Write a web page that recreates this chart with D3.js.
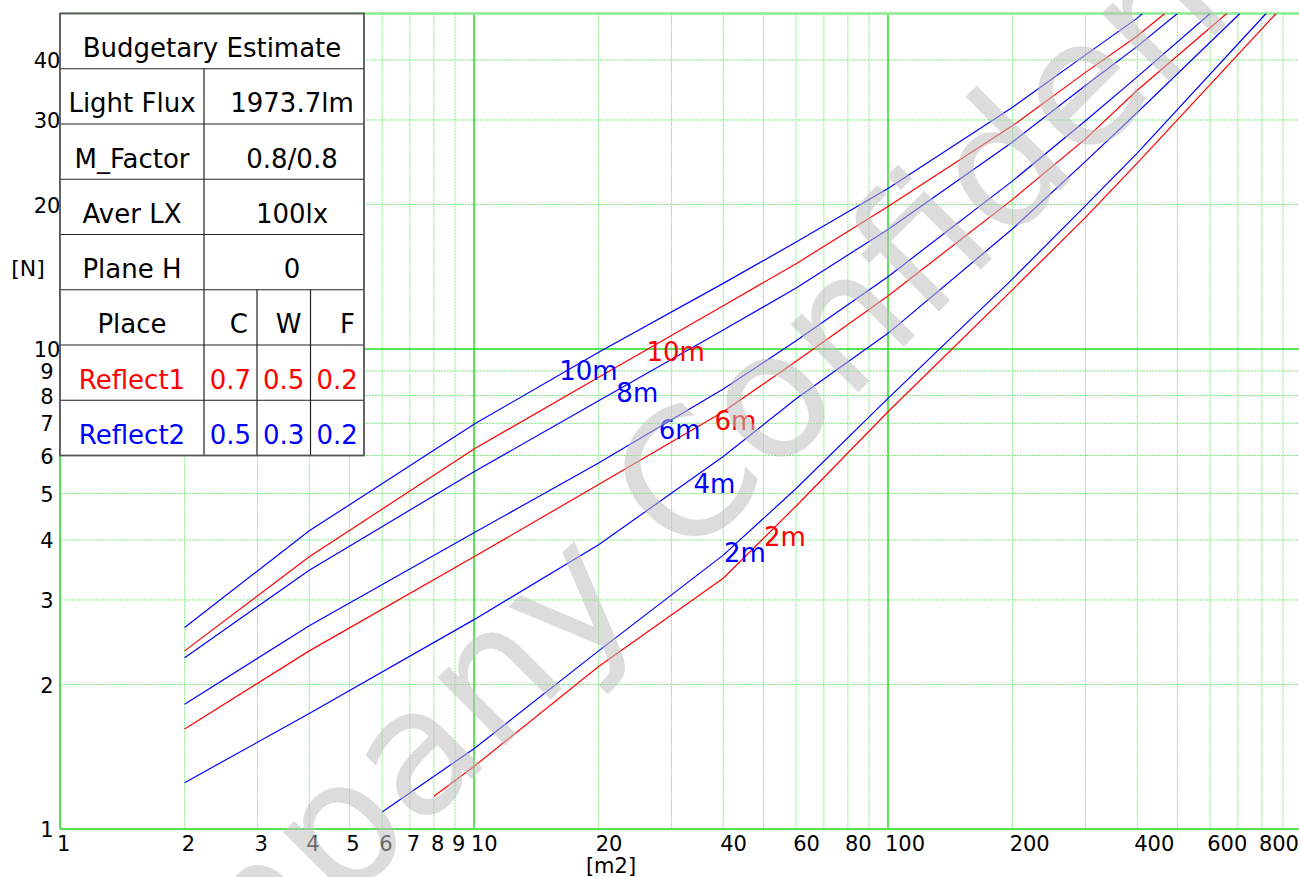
<!DOCTYPE html>
<html><head><meta charset="utf-8">
<script src="https://cdn.jsdelivr.net/npm/d3@7"></script>
<style>
html,body{margin:0;padding:0;background:#fff;}
svg{display:block;font-family:"DejaVu Sans",Verdana,sans-serif;}
</style>
</head><body>
<svg id="chart" width="1299" height="877"></svg>
<script>
// ---------- DATA ----------
const xTickLabels = [1,2,3,4,5,6,7,8,9,10,20,40,60,80,100,200,400,600,800];
const yTickLabels = [1,2,3,4,5,6,7,8,9,10,20,30,40];
const xMinorGrid = [2,3,4,5,6,7,8,9,20,30,40,50,60,70,80,90,200,300,400,500,600,700,800,900];
const xMajorGrid = [10,100];
const yMinorGrid = [2,3,4,5,6,7,8,9,20,30,40];
const yMajorGrid = [10];

// curves: [area m2, number of lamps]
const blue10m = [[2,2.63],[4,4.18],[10,6.97],[20,9.85],[40,13.7],[60,16.7],[100,21.6],[200,31.9],[300,41.0],[400,48.9],[412,50]];
const red10m  = [[2,2.35],[4,3.69],[10,6.19],[20,8.73],[40,12.3],[60,15.06],[100,19.8],[200,29.2],[300,37.7],[400,44.9],[466,50]];
const blue8m  = [[2,2.275],[4,3.46],[10,5.55],[20,7.80],[40,10.95],[60,13.4],[100,17.75],[200,27.0],[300,35.4],[400,42.7],[500,50]];
const blue6m  = [[2,1.82],[4,2.65],[10,4.14],[20,5.79],[40,8.25],[60,10.4],[100,14.15],[200,22.4],[300,29.9],[400,36.9],[600,50]];
const red6m   = [[2,1.615],[4,2.35],[10,3.69],[20,5.22],[40,7.40],[60,9.43],[100,12.9],[200,20.5],[300,27.4],[400,34.6],[658,50]];
const blue4m  = [[2,1.249],[4,1.74],[10,2.73],[20,3.91],[40,5.97],[60,7.88],[100,10.78],[200,17.8],[300,24.6],[400,31.1],[708,50]];
const blue2m  = [[6,1.085],[10,1.47],[20,2.35],[40,3.72],[60,5.12],[100,7.89],[200,14.0],[300,19.9],[400,25.6],[819,50]];
const red2m   = [[8,1.17],[10,1.35],[20,2.18],[40,3.33],[60,4.71],[100,7.4],[200,13.3],[300,18.8],[400,24.4],[866,50]];

const seriesNames  = ["10m","10m","8m","6m","6m","4m","2m","2m"];
const seriesGroups = ["Reflect2","Reflect1","Reflect2","Reflect2","Reflect1","Reflect2","Reflect2","Reflect1"];
const seriesData   = [blue10m, red10m, blue8m, blue6m, red6m, blue4m, blue2m, red2m];
// label anchor points in data coordinates
const labelPoints  = [[18.9,9.0],[30.7,9.86],[24.8,8.1],[31.4,6.78],[42.8,7.08],[38.1,5.23],[45.1,3.76],[56.4,4.06]];

const tableTitle   = "Budgetary Estimate";
const infoLabels   = ["Light Flux","M_Factor","Aver LX","Plane H"];
const infoValues   = ["1973.7lm","0.8/0.8","100lx","0"];
const placeHeader  = ["Place","C","W","F"];
const reflect1Row  = ["Reflect1","0.7","0.5","0.2"];
const reflect2Row  = ["Reflect2","0.5","0.3","0.2"];
const xTitle = "[m2]", yTitle = "[N]";
const watermark = "Company Confidential";

(function(){
// ---------- STYLE / LAYOUT ----------
const groupColor = {Reflect1:"#ff0000", Reflect2:"#0000ff"};
const pLeft = 60, pRight = 1302, pTop = 13.5, pBottom = 829;
const tickFont = 21;

const svg = d3.select("#chart");
const x = d3.scaleLog().domain([1,1000]).range([pLeft,pRight]);
const y = d3.scaleLog().domain([1,50]).range([pBottom,pTop]);

// grid
const grid = svg.append("g");
grid.selectAll(".vmin").data(xMinorGrid).join("line")
  .attr("x1",d=>x(d)).attr("x2",d=>x(d)).attr("y1",pTop).attr("y2",pBottom)
  .attr("stroke","#7cec7c").attr("stroke-width",1).attr("stroke-dasharray","2,1");
grid.selectAll(".hmin").data(yMinorGrid).join("line")
  .attr("y1",d=>y(d)).attr("y2",d=>y(d)).attr("x1",pLeft).attr("x2",pRight)
  .attr("stroke","#7cec7c").attr("stroke-width",1).attr("stroke-dasharray","2,1");
grid.selectAll(".vmaj").data(xMajorGrid).join("line")
  .attr("x1",d=>x(d)).attr("x2",d=>x(d)).attr("y1",pTop).attr("y2",pBottom)
  .attr("stroke","#22dd22").attr("stroke-width",1.5);
grid.selectAll(".hmaj").data(yMajorGrid).join("line")
  .attr("y1",d=>y(d)).attr("y2",d=>y(d)).attr("x1",pLeft).attr("x2",pRight)
  .attr("stroke","#22dd22").attr("stroke-width",1.5);
// frame
grid.append("line").attr("x1",pLeft).attr("x2",pRight).attr("y1",y(50)).attr("y2",y(50))
  .attr("stroke","#8cec8c").attr("stroke-width",2.5);
grid.append("line").attr("x1",pLeft).attr("x2",pRight).attr("y1",y(1)).attr("y2",y(1))
  .attr("stroke","#55e055").attr("stroke-width",2);
grid.append("line").attr("x1",x(1)).attr("x2",x(1)).attr("y1",pTop).attr("y2",pBottom)
  .attr("stroke","#55e055").attr("stroke-width",2);

// axes (labels only)
const xAxis = d3.axisBottom(x).tickValues(xTickLabels).tickFormat(d3.format("d")).tickSize(0).tickPadding(0);
const gx = svg.append("g").attr("transform",`translate(0,${pBottom})`).call(xAxis);
gx.select(".domain").remove();
gx.selectAll("text").attr("text-anchor","start").attr("dy",null).attr("x",-3.5).attr("y",22)
  .attr("font-size",tickFont).attr("font-family","DejaVu Sans").attr("fill","#000");

const yAxis = d3.axisLeft(y).tickValues(yTickLabels).tickFormat(d3.format("d")).tickSize(0);
const gy = svg.append("g").attr("transform",`translate(${pLeft},0)`).call(yAxis);
gy.select(".domain").remove();
gy.selectAll("text").attr("text-anchor","middle").attr("x",-13).attr("dy","0.36em")
  .attr("font-size",tickFont).attr("font-family","DejaVu Sans").attr("fill","#000");

svg.append("text").attr("x",611).attr("y",873).attr("text-anchor","middle")
  .attr("font-size",21).attr("fill","#000").text(xTitle);
svg.append("text").attr("x",28).attr("y",276).attr("text-anchor","middle")
  .attr("font-size",22).attr("fill","#000").text(yTitle);

// curves
svg.append("clipPath").attr("id","plotclip").append("rect")
  .attr("x",pLeft).attr("y",pTop).attr("width",pRight-pLeft).attr("height",pBottom-pTop);
const line = d3.line().x(d=>x(d[0])).y(d=>y(d[1]));
svg.append("g").attr("clip-path","url(#plotclip)")
  .selectAll("path").data(seriesData).join("path")
  .attr("d",line).attr("fill","none")
  .attr("stroke",(d,i)=>groupColor[seriesGroups[i]]).attr("stroke-width",1.2);

// curve labels
svg.append("g").selectAll("text").data(labelPoints).join("text")
  .attr("x",d=>x(d[0])).attr("y",d=>y(d[1])).attr("dy","0.36em")
  .attr("text-anchor","middle").attr("font-size",26)
  .attr("fill",(d,i)=>groupColor[seriesGroups[i]]).text((d,i)=>seriesNames[i]);

// table
const tb = svg.append("g");
const colX = [60,204,257,310.5,364];
const rowH = 55.25, tTop = 13.5;
const rowTop = i => tTop + i*rowH;
const nRows = 8;
tb.append("rect").attr("x",colX[0]).attr("y",tTop).attr("width",colX[4]-colX[0]).attr("height",nRows*rowH)
  .attr("fill","#fff").attr("stroke","none");
for(let i=1;i<nRows;i++){
  tb.append("line").attr("x1",colX[0]).attr("x2",colX[4]).attr("y1",rowTop(i)).attr("y2",rowTop(i))
    .attr("stroke","#222").attr("stroke-width",1.2);
}
tb.append("line").attr("x1",colX[1]).attr("x2",colX[1]).attr("y1",rowTop(1)).attr("y2",rowTop(nRows))
  .attr("stroke","#222").attr("stroke-width",1.2);
[2,3].forEach(c=>tb.append("line").attr("x1",colX[c]).attr("x2",colX[c]).attr("y1",rowTop(5)).attr("y2",rowTop(nRows))
  .attr("stroke","#222").attr("stroke-width",1.2));
tb.append("rect").attr("x",colX[0]).attr("y",tTop).attr("width",colX[4]-colX[0]).attr("height",nRows*rowH)
  .attr("fill","none").attr("stroke","#555").attr("stroke-width",1.8);

const txt = (xp, row, s, color, anchor) => tb.append("text").attr("x",xp).attr("y",rowTop(row)+43.5)
  .attr("text-anchor",anchor||"middle").attr("font-size",26).attr("fill",color||"#000").text(s);
txt((colX[0]+colX[4])/2, 0, tableTitle);
infoLabels.forEach((s,i)=>{ txt((colX[0]+colX[1])/2, i+1, s); txt(292, i+1, infoValues[i]); });
txt((colX[0]+colX[1])/2, 5, placeHeader[0]);
[1,2,3].forEach(c=>txt(colX[c+1]-9, 5, placeHeader[c], "#000", "end"));
[[reflect1Row,"Reflect1",6],[reflect2Row,"Reflect2",7]].forEach(([row,g,r])=>{
  txt((colX[0]+colX[1])/2, r, row[0], groupColor[g]);
  [1,2,3].forEach(c=>txt((colX[c]+colX[c+1])/2, r, row[c], groupColor[g]));
});

// watermark
svg.append("text").attr("transform","translate(698,462) rotate(-45)")
  .attr("y",64).attr("text-anchor","middle").attr("font-size",175)
  .attr("fill","#c0c0c0").attr("fill-opacity",0.55).text(watermark);
})();
</script>
</body></html>
